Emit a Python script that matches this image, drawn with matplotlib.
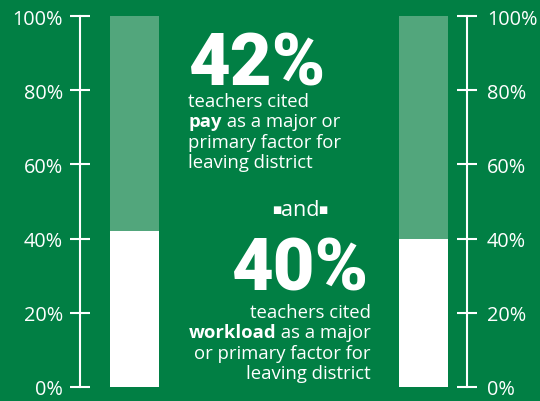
import matplotlib
matplotlib.use("Agg")
import matplotlib.pyplot as plt

# Data
categories = ["pay", "workload"]
shares = [42, 40]            # percent of teachers citing the factor
tick_values = [0, 20, 40, 60, 80, 100]
tick_labels = ["0%", "20%", "40%", "60%", "80%", "100%"]

BG = "#017f44"
LIGHT = "#52a67c"
WHITE = "#ffffff"

W, H = 540, 402
fig = plt.figure(figsize=(W / 100, H / 100), dpi=100, facecolor=BG)

y0_px, y100_px = 388, 17
ax = fig.add_axes([0, (H - y0_px) / H, 1, (y0_px - y100_px) / H])
ax.set_facecolor(BG)
ax.set_xlim(0, W)
ax.set_ylim(0, 100)

bar_x = [134.5, 423.5]
bar_w = 49
ax.bar(bar_x, shares, width=bar_w, color=WHITE, linewidth=0, zorder=2)
ax.bar(bar_x, [100 - s for s in shares], bottom=shares, width=bar_w,
       color=LIGHT, linewidth=0, zorder=2)

# Right-hand axis as a twin so its labels can sit at their own distance
ax2 = ax.twinx()
ax2.set_ylim(ax.get_ylim())

tick_style = dict(axis="y", which="major", direction="inout", length=13.7,
                  width=1.5, color=WHITE, labelcolor=WHITE, labelsize=14.3)

for a in (ax, ax2):
    for side in ["top", "bottom", "left", "right"]:
        a.spines[side].set_visible(False)
    a.set_xticks([])

ax.spines["left"].set_visible(True)
ax.spines["left"].set_position(("data", 80))
ax.spines["left"].set_color(WHITE)
ax.spines["left"].set_linewidth(1.5)
ax.set_yticks(tick_values)
ax.set_yticklabels(tick_labels, family="Open Sans")
ax.tick_params(left=True, right=False, labelleft=True, labelright=False,
               pad=5.5, **tick_style)

ax2.spines["right"].set_visible(True)
ax2.spines["right"].set_position(("data", 467))
ax2.spines["right"].set_color(WHITE)
ax2.spines["right"].set_linewidth(1.5)
ax2.set_yticks(tick_values)
ax2.set_yticklabels(tick_labels, family="Open Sans")
ax2.tick_params(left=False, right=True, labelleft=False, labelright=True,
                pad=7.5, **tick_style)

tf = fig.transFigure
def px(x, y):
    return x / W, 1 - y / H

body = dict(color=WHITE, fontsize=13.3, family="Open Sans", transform=tf)
big = dict(color=WHITE, fontsize=52, fontweight="black", family="Roboto",
           transform=tf, va="baseline")
step = 20.4

# Upper callout
fig.text(*px(189, 85), f"{shares[0]}%", ha="left", **big)
upper = [("teachers cited", None), (categories[0], " as a major or"),
         ("primary factor for", None), ("leaving district", None)]
for i, (a, b) in enumerate(upper):
    y = 107 + i * step
    if b is None:
        fig.text(*px(188, y), a, ha="left", va="baseline", **body)
    else:
        t = fig.text(*px(188, y), a, ha="left", va="baseline",
                     fontweight="bold", **body)
        fig.canvas.draw()
        bb = t.get_window_extent()
        fig.text(bb.x1 / W, 1 - y / H, b, ha="left", va="baseline", **body)

# "and" separator flanked by small square bullets
and_style = dict(body)
and_style["fontsize"] = 15.5
t_and = fig.text(*px(300, 216), "and", ha="center", va="baseline", **and_style)
fig.canvas.draw()
bb = t_and.get_window_extent()
bullet = dict(color=WHITE, fontsize=7, family="DejaVu Sans", transform=tf,
              va="center")
fig.text((bb.x0 + 1) / W, 1 - 210 / H, "\u25a0", ha="right", **bullet)
fig.text((bb.x1 - 1) / W, 1 - 210 / H, "\u25a0", ha="left", **bullet)

# Lower callout
fig.text(*px(369, 291), f"{shares[1]}%", ha="right", **big)
lower = ["teachers cited", None, "or primary factor for", "leaving district"]
for i, s in enumerate(lower):
    y = 318 + i * step
    if s is None:
        t = fig.text(*px(371, y), " as a major", ha="right", va="baseline",
                     **body)
        fig.canvas.draw()
        bb = t.get_window_extent()
        fig.text(bb.x0 / W, 1 - y / H, categories[1], ha="right",
                 va="baseline", fontweight="bold", **body)
    else:
        fig.text(*px(371, y), s, ha="right", va="baseline", **body)

fig.savefig("out.png", dpi=100, facecolor=BG)
